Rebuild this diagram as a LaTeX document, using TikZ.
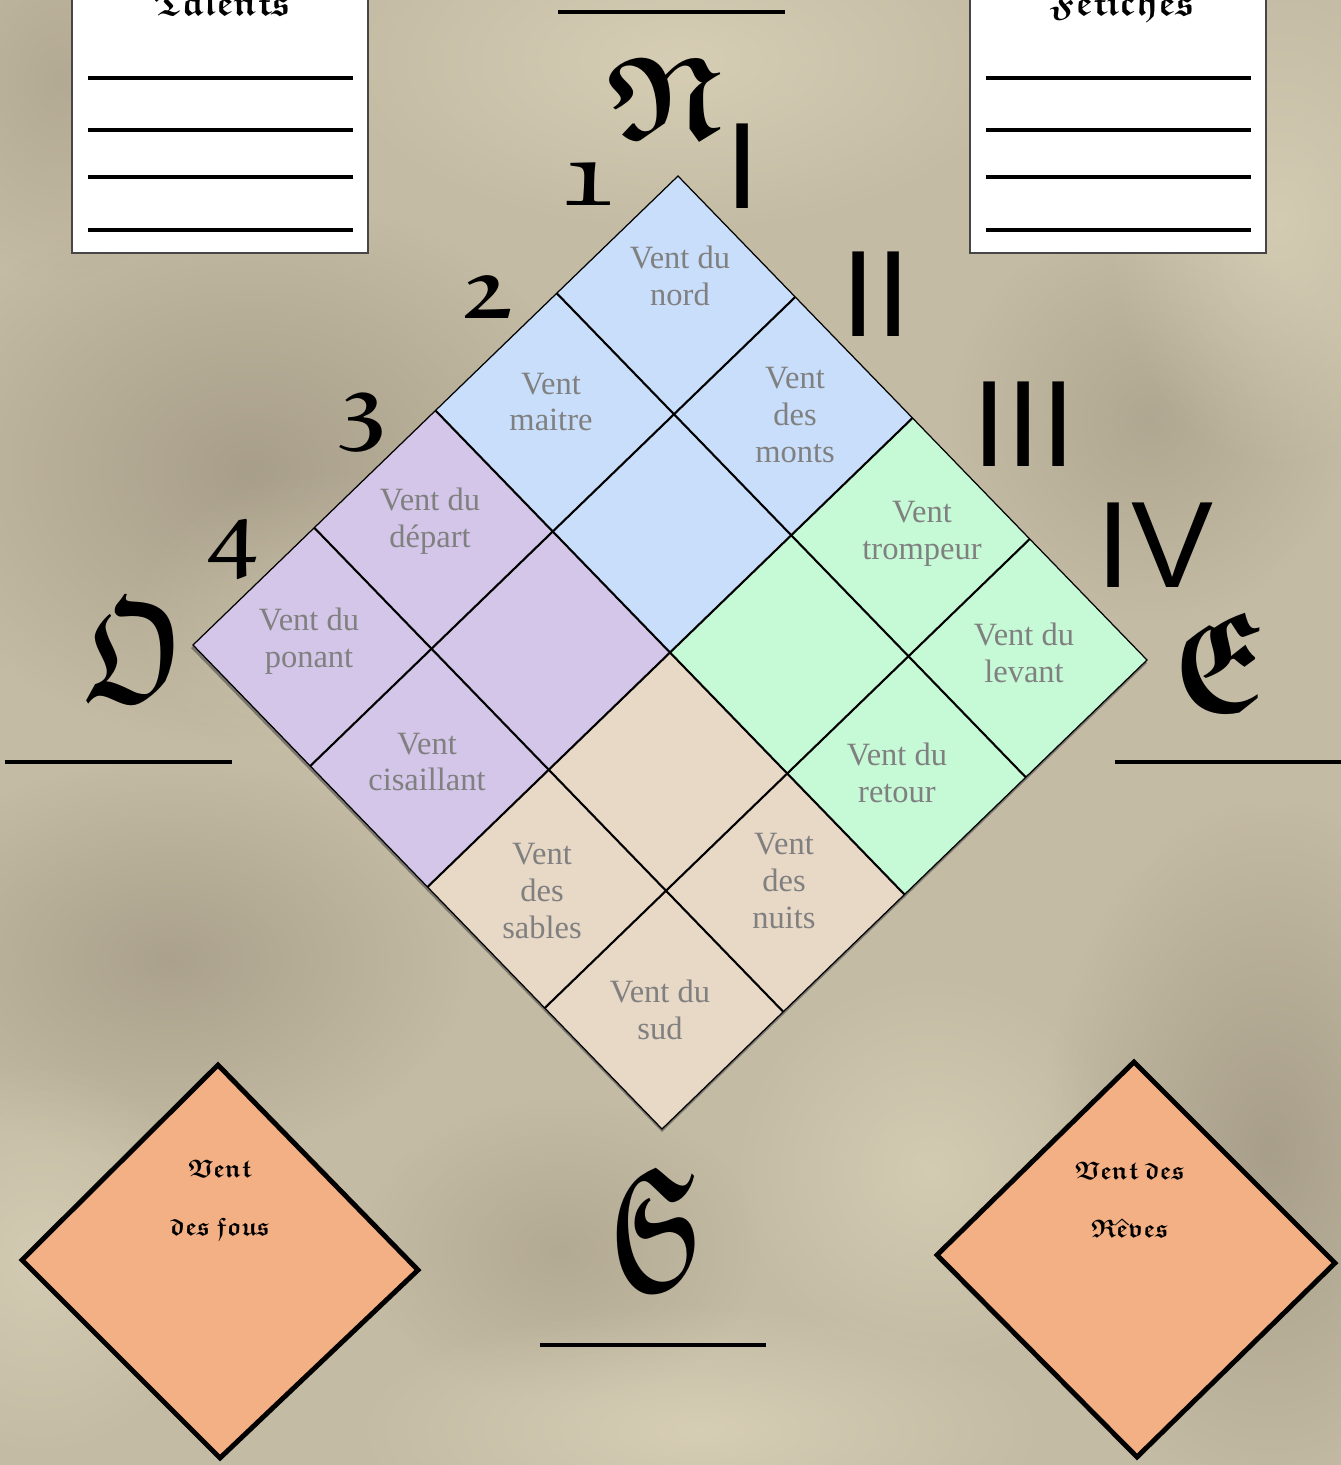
\documentclass[tikz,border=0pt]{standalone}
\usepackage{amssymb}
\usepackage{fontspec}
\setmainfont{Liberation Serif}
\newfontfamily\romanfont{Liberation Sans}
\usetikzlibrary{calc,fadings}
\definecolor{parchment} {RGB}{196,187,164}
\definecolor{parchdark} {RGB}{140,130,112}
\definecolor{parchlight}{RGB}{222,213,188}
\definecolor{windblue}  {RGB}{200,222,250}
\definecolor{windgreen} {RGB}{198,250,214}
\definecolor{windpurple}{RGB}{211,198,232}
\definecolor{windsand}  {RGB}{232,216,198}
\definecolor{windorange}{RGB}{243,176,132}
\definecolor{windtext}  {RGB}{128,128,128}
\definecolor{boxedge}   {RGB}{70,70,70}
\newcommand\goth[1]{\ensuremath{\mathfrak{#1}}}
\tikzfading[name=softblob,inner color=transparent!0,outer color=transparent!100]
\tikzset{
  blob/.style={path fading=softblob},
  gridline/.style={draw=black,line width=1.2pt},
  windtxt/.style={align=center,text=windtext,inner sep=0pt,
                  font=\fontsize{18.5}{21}\selectfont},
  rose/.style={inner sep=0pt,scale=2.7,font=\fontsize{24.88}{24.88}\selectfont\boldmath},
  rank/.style={inner sep=0pt,scale=2,font=\fontsize{24.88}{24.88}\selectfont\boldmath},
  roman/.style={inner sep=0pt,font=\romanfont\fontsize{70}{70}\selectfont},
  notebox/.style={draw=boxedge,fill=white,line width=0.8pt},
  noteline/.style={line width=2.3pt},
  blank/.style={line width=2.3pt},
  orangebox/.style={draw=black,fill=windorange,line width=2.8pt},
  gothword/.style={align=center,inner sep=0pt,
                   font=\fontsize{14.4}{33}\selectfont\boldmath},
  titleword/.style={inner sep=0pt,font=\fontsize{20.74}{20.74}\selectfont\boldmath},
}

\begin{document}
\begin{tikzpicture}[x=0.02cm,y=-0.02cm]
  \useasboundingbox (0,0) rectangle (1341,1465);
  % parchment
  \fill[parchment] (0,0) rectangle (1341,1465);
  \fill[parchdark,blob,fill opacity=0.5] (250,470) ellipse (7cm and 5.5cm);
  \fill[parchdark,blob,fill opacity=0.45] (170,960) ellipse (6cm and 4cm);
  \fill[parchdark,blob,fill opacity=0.5] (1270,1150) ellipse (4.5cm and 7cm);
  \fill[parchdark,blob,fill opacity=0.35] (1150,420) ellipse (4cm and 4cm);
  \fill[parchdark,blob,fill opacity=0.3] (560,1250) ellipse (4cm and 3cm);
  \fill[parchdark,blob,fill opacity=0.3] (60,80) ellipse (3cm and 4cm);
  \fill[parchlight,blob,fill opacity=0.7] (680,60) ellipse (7cm and 3.5cm);
  \fill[parchlight,blob,fill opacity=0.7] (700,1430) ellipse (7cm and 2.5cm);
  \fill[parchlight,blob,fill opacity=0.6] (930,1170) ellipse (4cm and 4cm);
  \fill[parchlight,blob,fill opacity=0.6] (40,1260) ellipse (3.5cm and 4cm);
  \fill[parchlight,blob,fill opacity=0.6] (1280,220) ellipse (3.5cm and 5cm);
  \fill[parchlight,blob,fill opacity=0.4] (330,620) ellipse (4cm and 3cm);

  % note boxes
  \draw[notebox] (72,-10) rectangle (368,253);
  \draw[notebox] (970,-10) rectangle (1266,253);
  \node[titleword,anchor=base] (talents) at (222,15) {\goth{Talents}};
  \node[titleword,anchor=base] (fetiches) at (1122,15) {\goth{Fetiches}};
  \foreach \y in {78,130,177,230} {
    \draw[noteline] (88,\y) -- (353,\y);
    \draw[noteline] (986,\y) -- (1251,\y);
  }

  % blank lines
  \draw[blank] (558,12) -- (785,12);
  \draw[blank] (5,762) -- (232,762);
  \draw[blank] (1115,762) -- (1341,762);
  \draw[blank] (540,1345) -- (766,1345);

  % grid corners
  \foreach \i in {0,...,4}
    \foreach \j in {0,...,4}
      \coordinate (g\i\j) at ({678+117.25*\i-121.25*\j},{176+121*\i+117.25*\j});

  % shadow and quarters
  \fill[black!70,opacity=0.6] ($(g00)+(0,3)$) -- ($(g40)+(0,3)$) -- ($(g44)+(0,3)$) -- ($(g04)+(-2,3)$) -- cycle;
  \foreach \qi/\qj/\qc [evaluate=\qi as \qa using int(\qi+2),
                        evaluate=\qj as \qb using int(\qj+2)]
      in {0/0/windblue,2/0/windgreen,0/2/windpurple,2/2/windsand}
    \fill[\qc] (g\qi\qj) -- (g\qa\qj) -- (g\qa\qb) -- (g\qi\qb) -- cycle;
  \foreach \k in {1,2,3} {
    \draw[gridline] (g\k0) -- (g\k4);
    \draw[gridline] (g0\k) -- (g4\k);
  }
  \draw[black,line width=0.7pt] (g00) -- (g40) -- (g44) -- (g04) -- cycle;

  % winds
  \node[windtxt] (nord)       at (680,276)  {Vent du\\nord};
  \node[windtxt] (maitre)     at (551,402)  {Vent\\maitre};
  \node[windtxt] (monts)      at (795,415)  {Vent\\des\\monts};
  \node[windtxt] (trompeur)   at (922,534)  {Vent\\trompeur};
  \node[windtxt] (levant)     at (1024,653) {Vent du\\levant};
  \node[windtxt] (retour)     at (897,773)  {Vent du\\retour};
  \node[windtxt] (depart)     at (430,521)  {Vent du\\départ};
  \node[windtxt] (ponant)     at (309,641)  {Vent du\\ponant};
  \node[windtxt] (cisaillant) at (427,762)  {Vent\\cisaillant};
  \node[windtxt] (sables)     at (542,891)  {Vent\\des\\sables};
  \node[windtxt] (nuits)      at (784,881)  {Vent\\des\\nuits};
  \node[windtxt] (sud)        at (660,1010) {Vent du\\sud};

  % cardinal points
  \node[rose] (N) at (664,98)   {\goth{N}};
  \node[rose,xscale=0.85,yscale=1.25] (O) at (134,650)  {\goth{O}};
  \node[rose,yscale=1.2] (E) at (1220,662) {\goth{E}};
  \node[rose,xscale=0.8,yscale=1.5] (S) at (656,1228) {\goth{S}};

  % ranks
  \node[rank] (r1) at (588,185) {\goth{1}};
  \node[rank] (r2) at (487,298) {\goth{2}};
  \node[rank] (r3) at (362,423) {\goth{3}};
  \node[rank] (r4) at (233,550) {\goth{4}};
  \node[roman] (c1) at (743,166)  {I};
  \node[roman] (c2) at (876,294)  {II};
  \node[roman] (c3) at (1024,424) {III};
  \node[roman] (c4) at (1155,545) {IV};

  % special winds
  \draw[orangebox] (218,1065) -- (418,1270) -- (220,1458) -- (22,1260) -- cycle;
  \draw[orangebox] (1134,1062) -- (1335,1263) -- (1137,1457) -- (937,1255) -- cycle;
  \node[gothword] (fous)  at (220,1200)  {\goth{Vent}\\\goth{des\ fous}};
  \node[gothword] (reves) at (1130,1200) {\goth{Vent\ des}\\\goth{R\hat{e}ves}};
\end{tikzpicture}
\end{document}
